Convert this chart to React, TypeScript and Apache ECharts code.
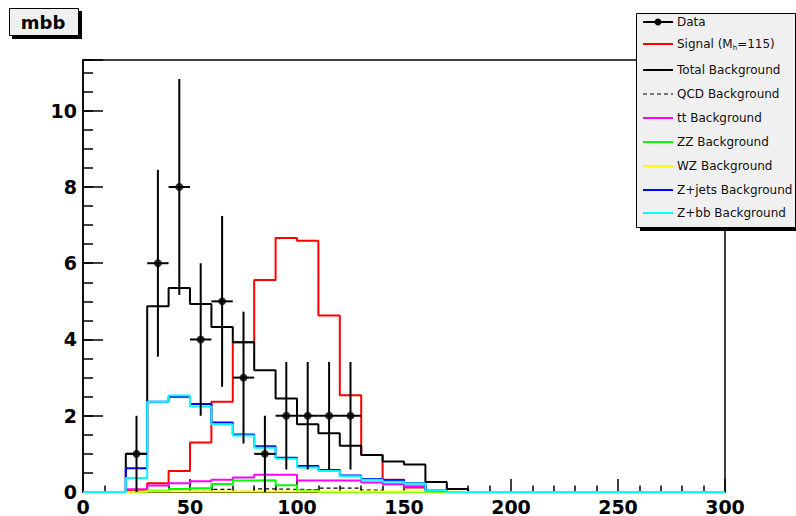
import React, { useEffect, useRef } from "react";
import * as echarts from "echarts";

// Bin lower edges (GeV), 10 GeV bins from 0 to 300
const binEdges = [0, 10, 20, 30, 40, 50, 60, 70, 80, 90, 100, 110, 120, 130, 140, 150, 160, 170, 180, 190, 200, 210, 220, 230, 240, 250, 260, 270, 280, 290];
const xMaxEdge = 300;

const signal = [0, 0, 0.04, 0.23, 0.55, 1.3, 2.37, 3.93, 5.56, 6.66, 6.59, 4.63, 2.54, 0.97, 0.32, 0.12, 0, 0, 0, 0, 0, 0, 0, 0, 0, 0, 0, 0, 0, 0];
const totalBkg = [0, 0, 1.0, 4.87, 5.35, 4.93, 4.33, 3.93, 3.19, 2.45, 1.78, 1.54, 1.21, 0.97, 0.8, 0.72, 0.26, 0.08, 0, 0, 0, 0, 0, 0, 0, 0, 0, 0, 0, 0];
const qcdBkg = [0, 0, 0, 0, 0, 0.02, 0.07, 0.02, 0.08, 0.07, 0.06, 0.1, 0.1, 0.05, 0, 0, 0, 0, 0, 0, 0, 0, 0, 0, 0, 0, 0, 0, 0, 0];
const ttBkg = [0, 0, 0.07, 0.17, 0.23, 0.28, 0.32, 0.38, 0.45, 0.45, 0.3, 0.3, 0.3, 0.25, 0.2, 0.15, 0, 0, 0, 0, 0, 0, 0, 0, 0, 0, 0, 0, 0, 0];
const zzBkg = [0, 0, 0, 0.03, 0.08, 0.1, 0.21, 0.3, 0.31, 0.18, 0.04, 0, 0, 0, 0, 0, 0, 0, 0, 0, 0, 0, 0, 0, 0, 0, 0, 0, 0, 0];
const wzBkg = [0, 0, 0.015, 0.015, 0.015, 0.015, 0.015, 0.015, 0.015, 0.015, 0.015, 0.015, 0.015, 0.015, 0.015, 0.015, 0.015, 0, 0, 0, 0, 0, 0, 0, 0, 0, 0, 0, 0, 0];
const zjetsBkg = [0, 0, 0.62, 2.37, 2.5, 2.31, 1.82, 1.51, 1.2, 0.9, 0.68, 0.58, 0.43, 0.34, 0.31, 0.23, 0.04, 0, 0, 0, 0, 0, 0, 0, 0, 0, 0, 0, 0, 0];
const zbbBkg = [0, 0, 0.37, 2.37, 2.53, 2.24, 1.78, 1.48, 1.16, 0.87, 0.64, 0.55, 0.41, 0.32, 0.27, 0.22, 0.04, 0, 0, 0, 0, 0, 0, 0, 0, 0, 0, 0, 0, 0];

// Data points (bin centres), counts and error bars
const dataX = [25, 35, 45, 55, 65, 75, 85, 95, 105, 115, 125];
const dataY = [1, 6, 8, 4, 5, 3, 1, 2, 2, 2, 2];
const dataErr = [1.0, 2.45, 2.83, 2.0, 2.24, 1.73, 1.0, 1.41, 1.41, 1.41, 1.41];
const dataXErr = 5;

const xTicks = [0, 50, 100, 150, 200, 250, 300];
const yTicks = [0, 2, 4, 6, 8, 10];

const legendItems = [
  { name: "Data", color: "#000000", kind: "data" },
  { name: "Signal (M{s|h}=115)", color: "#ff0000", kind: "line" },
  { name: "Total Background", color: "#000000", kind: "line" },
  { name: "QCD Background", color: "#000000", kind: "dash" },
  { name: "tt Background", color: "#ff00ff", kind: "line" },
  { name: "ZZ Background", color: "#00ff00", kind: "line" },
  { name: "WZ Background", color: "#ffff00", kind: "line" },
  { name: "Z+jets Background", color: "#0000ff", kind: "line" },
  { name: "Z+bb Background", color: "#00ffff", kind: "line" },
];
const legendRowY = [22, 44, 70, 94, 118, 142, 166, 190, 213];

function stepData(vals: number[]) {
  const d: number[][] = binEdges.map((e, i) => [e, vals[i]]);
  d.push([xMaxEdge, vals[vals.length - 1]]);
  return d;
}

function histSeries(name: string, vals: number[], color: string, dashed = false, width = 2) {
  return {
    name,
    type: "line",
    step: "end",
    data: stepData(vals),
    showSymbol: false,
    symbol: "none",
    clip: false,
    lineStyle: { color, width, type: dashed ? [4, 3] : "solid" },
    emphasis: { disabled: true },
    silent: true,
  };
}

const FONT = "DejaVu Sans";

export default function App() {
  const ref = useRef<HTMLDivElement>(null);
  useEffect(() => {
    if (!ref.current) return;
    const chart = echarts.init(ref.current, undefined, { renderer: "svg" });

    const legendChildren: any[] = [
      { type: "rect", shape: { x: 640, y: 17, width: 162, height: 214 }, style: { fill: "#000" } },
      { type: "rect", shape: { x: 636.5, y: 13.5, width: 159, height: 214 }, style: { fill: "#f0f0f0", stroke: "#000", lineWidth: 1 } },
    ];
    legendItems.forEach((it, i) => {
      const y = legendRowY[i];
      legendChildren.push({
        type: "line",
        shape: { x1: 643, y1: y, x2: 673, y2: y },
        style: { stroke: it.color, lineWidth: it.kind === "dash" ? 1.2 : 2, lineDash: it.kind === "dash" ? [4, 3] : null },
      });
      if (it.kind === "data") {
        legendChildren.push({ type: "circle", shape: { cx: 658, cy: y, r: 3.5 }, style: { fill: "#000" } });
      }
      legendChildren.push({
        type: "text",
        x: 677,
        y: y,
        style: {
          text: it.name,
          fontFamily: FONT,
          fontSize: 12,
          fill: "#111",
          verticalAlign: "middle",
          align: "left",
          rich: { s: { fontSize: 7, fontFamily: FONT, fill: "#111", padding: [7, 0, 0, 0] } },
        },
      });
    });

    const option: any = {
      animation: false,
      backgroundColor: "#ffffff",
      grid: {
        left: 83,
        right: 71,
        top: 60,
        bottom: 22,
        show: true,
        borderColor: "#000",
        borderWidth: 1.5,
        backgroundColor: "transparent",
      },
      xAxis: {
        type: "value",
        min: 0,
        max: 300,
        interval: 50,
        axisLine: { show: true, lineStyle: { color: "#000", width: 1.5 } },
        axisTick: { show: true, inside: true, length: 13, lineStyle: { color: "#000", width: 1.5 } },
        minorTick: { show: true, splitNumber: 5, length: 6.5, lineStyle: { color: "#000", width: 1.5 } },
        splitLine: { show: false },
        minorSplitLine: { show: false },
        axisLabel: {
          fontFamily: FONT,
          fontWeight: "bold",
          fontSize: 19,
          color: "#000",
          margin: 5,
          formatter: (v: number) => (xTicks.includes(v) ? String(v) : ""),
        },
      },
      yAxis: [
        {
          type: "value",
          min: 0,
          max: 11.33,
          interval: 2,
          position: "left",
          axisLine: { show: true, lineStyle: { color: "#000", width: 1.5 } },
          axisTick: { show: true, inside: true, length: 20, lineStyle: { color: "#000", width: 1.5 } },
          splitLine: { show: false },
          axisLabel: {
            fontFamily: FONT,
            fontWeight: "bold",
            fontSize: 19,
            color: "#000",
            margin: 6,
            formatter: (v: number) => (yTicks.includes(v) ? String(v) : ""),
          },
        },
        {
          type: "value",
          min: 0,
          max: 11.33,
          interval: 0.5,
          position: "left",
          offset: 0,
          axisLine: { show: false },
          axisTick: { show: true, inside: true, length: 10, lineStyle: { color: "#000", width: 1.5 } },
          splitLine: { show: false },
          axisLabel: { show: false },
        },
      ],
      series: [
        histSeries("Signal", signal, "#ff0000"),
        histSeries("Total Background", totalBkg, "#000000"),
        histSeries("QCD Background", qcdBkg, "#000000", true, 1.2),
        histSeries("tt Background", ttBkg, "#ff00ff"),
        histSeries("ZZ Background", zzBkg, "#00ff00"),
        histSeries("WZ Background", wzBkg, "#ffff00"),
        histSeries("Z+jets Background", zjetsBkg, "#0000ff"),
        histSeries("Z+bb Background", zbbBkg, "#00ffff"),
        {
          name: "Data errors",
          type: "custom",
          silent: true,
          clip: false,
          data: dataX.map((x, i) => [x, dataY[i], dataErr[i]]),
          renderItem: (params: any, api: any) => {
            const x = api.value(0);
            const y = api.value(1);
            const e = api.value(2);
            const top = api.coord([x, y + e]);
            const bot = api.coord([x, Math.max(0, y - e)]);
            const l = api.coord([x - dataXErr, y]);
            const r = api.coord([x + dataXErr, y]);
            return {
              type: "group",
              children: [
                { type: "line", shape: { x1: top[0], y1: top[1], x2: bot[0], y2: bot[1] }, style: { stroke: "#000", lineWidth: 2 } },
                { type: "line", shape: { x1: l[0], y1: l[1], x2: r[0], y2: r[1] }, style: { stroke: "#000", lineWidth: 2 } },
              ],
            };
          },
          z: 5,
        },
        {
          name: "Data",
          type: "scatter",
          silent: true,
          symbol: "circle",
          symbolSize: 8,
          itemStyle: { color: "#000" },
          data: dataX.map((x, i) => [x, dataY[i]]),
          z: 6,
        },
      ],
      graphic: [
        {
          type: "group",
          z: 100,
          children: [
            { type: "rect", shape: { x: 12, y: 11, width: 70, height: 28 }, style: { fill: "#000" } },
            { type: "rect", shape: { x: 9.5, y: 8.5, width: 69, height: 27 }, style: { fill: "#f0f0f0", stroke: "#000", lineWidth: 1 } },
            {
              type: "text",
              x: 43,
              y: 22.5,
              style: { text: "mbb", fontFamily: FONT, fontWeight: "bold", fontSize: 18, fill: "#000", align: "center", verticalAlign: "middle" },
            },
          ],
        },
        { type: "group", z: 100, children: legendChildren },
      ],
    };
    chart.setOption(option);
    return () => chart.dispose();
  }, []);
  return <div ref={ref} style={{ position: "fixed", left: 0, top: 0, width: 796, height: 516 }} />;
}
